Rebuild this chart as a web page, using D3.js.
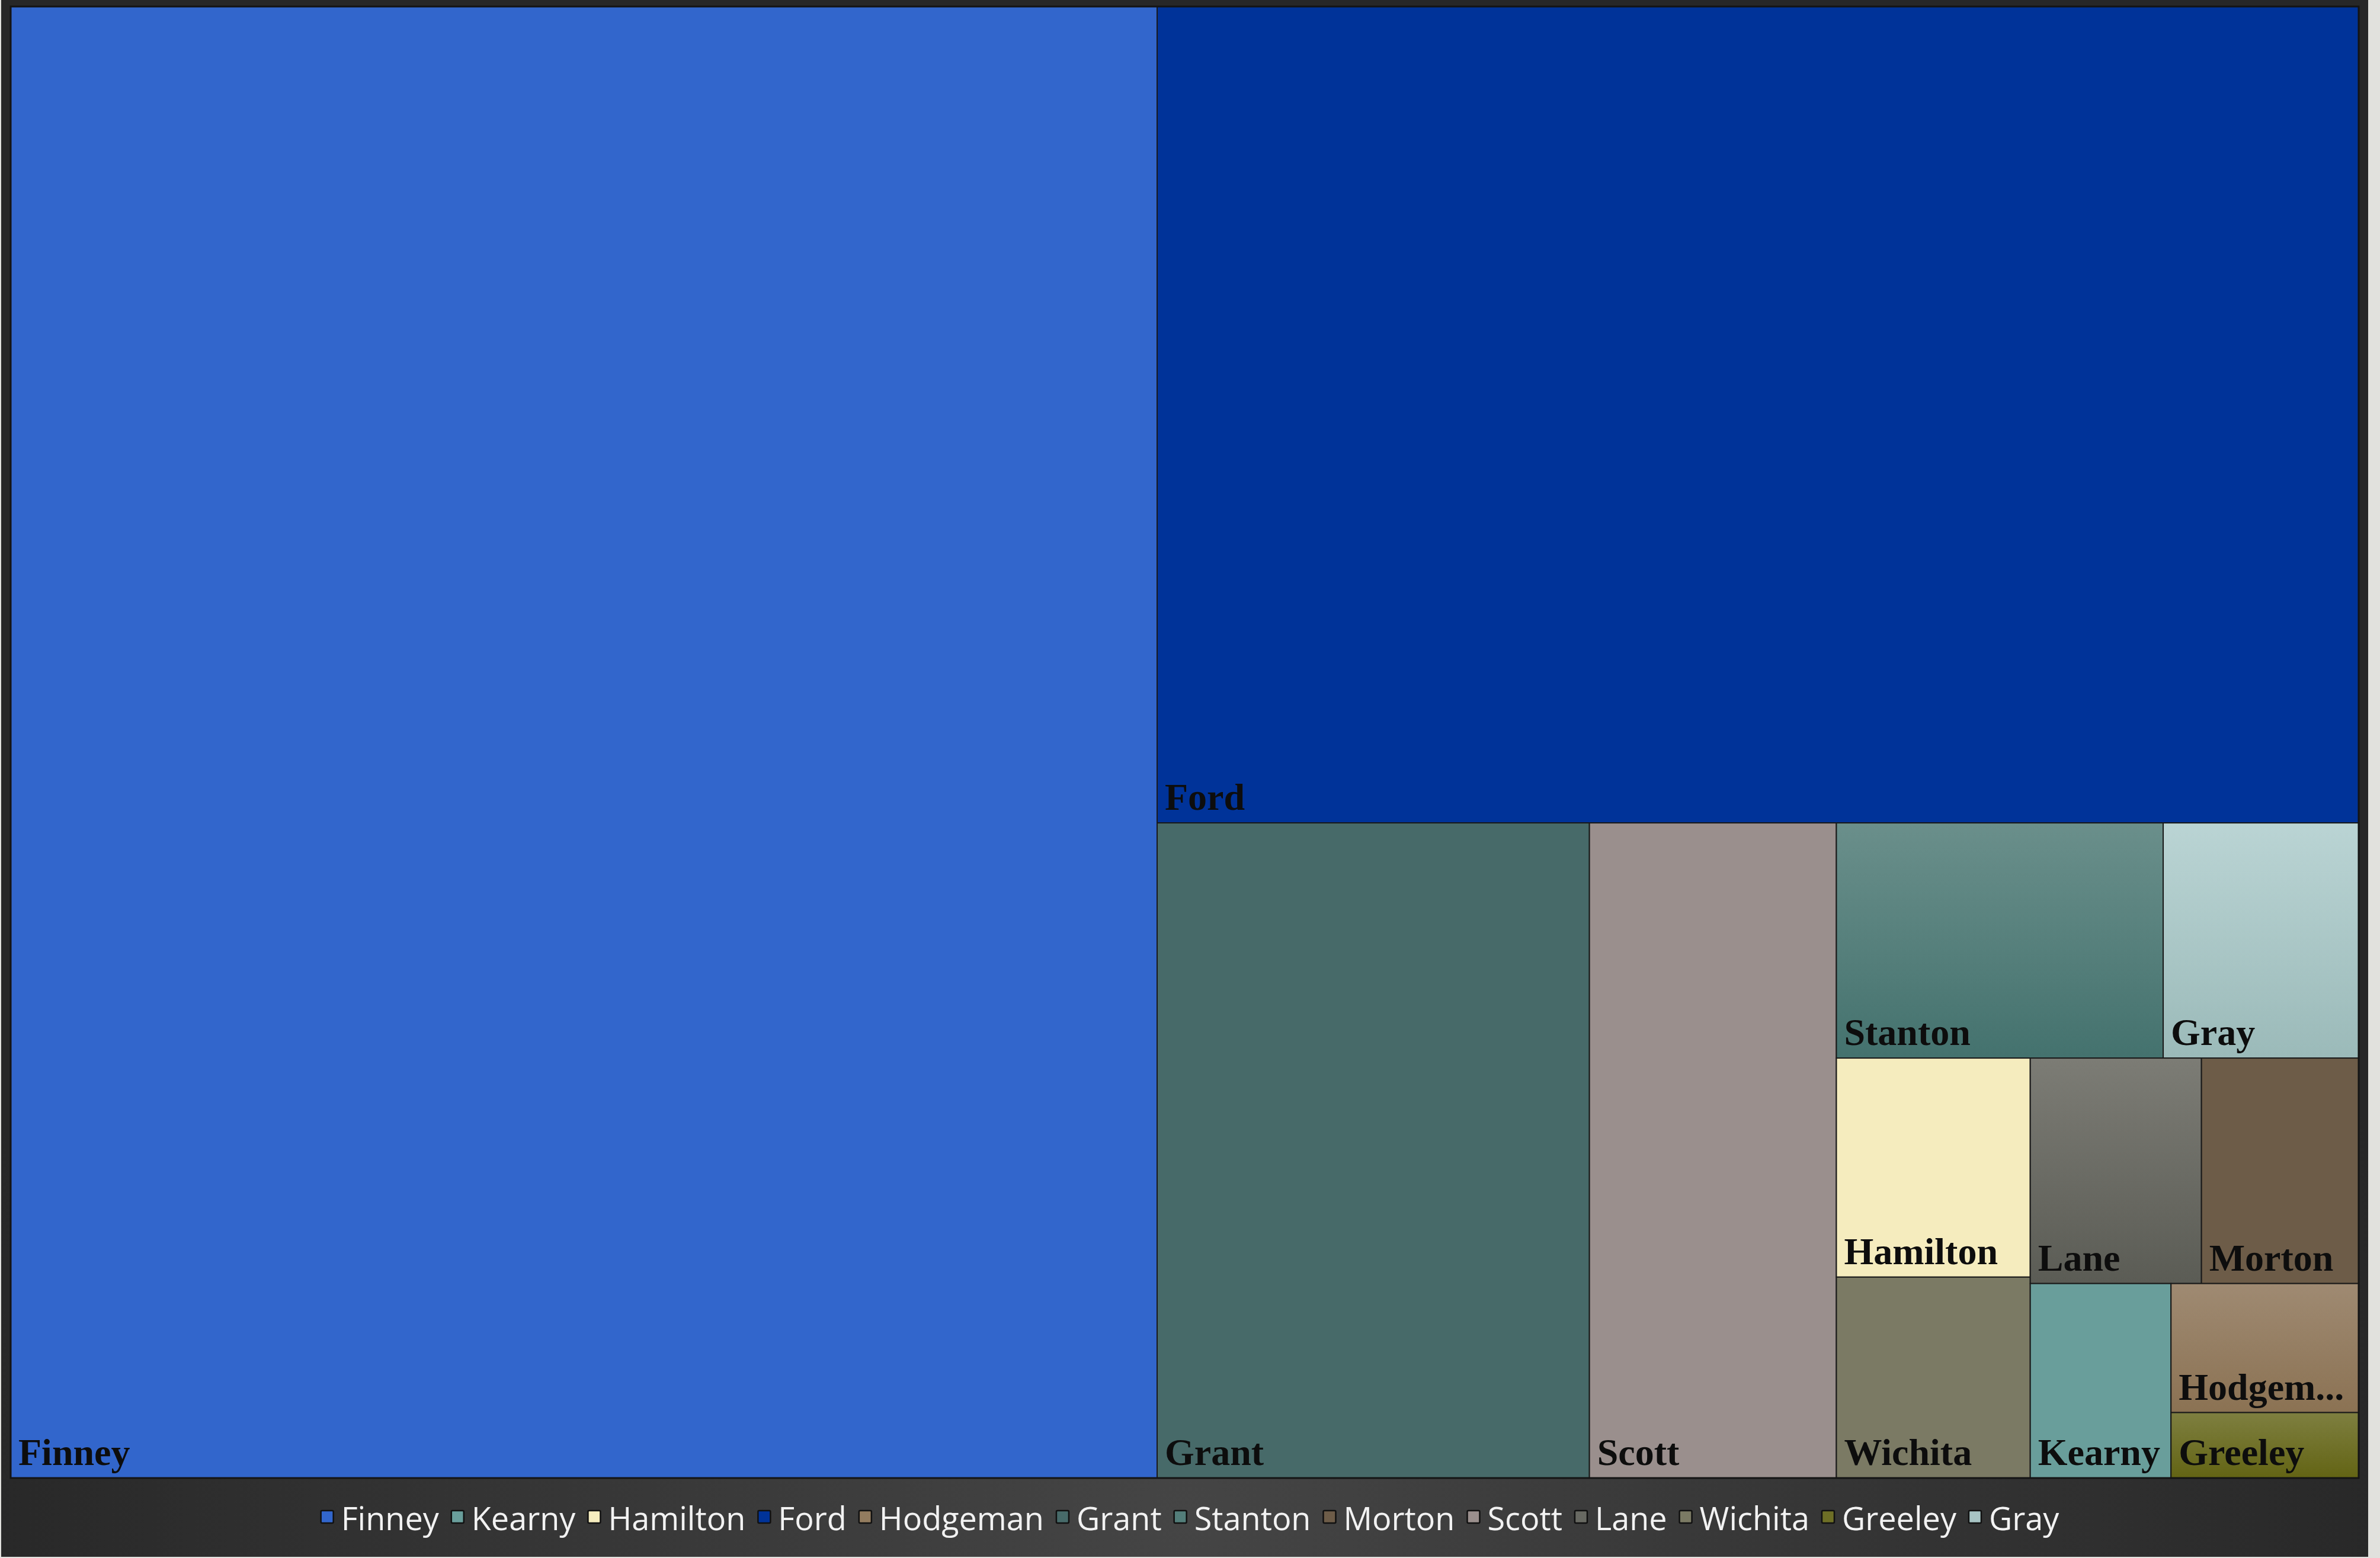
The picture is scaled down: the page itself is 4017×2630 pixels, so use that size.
<!DOCTYPE html>
<html>
<head>
<meta charset="utf-8">
<script src="https://cdn.jsdelivr.net/npm/d3@7"></script>
<style>
  html, body { margin: 0; padding: 0; background: #e1e1dd; overflow: hidden; }
  svg { display: block; }
</style>
</head>
<body>
<svg id="chart"></svg>
<script>
// data, in the order of the legend
const counties = ["Finney", "Kearny", "Hamilton", "Ford", "Hodgeman", "Grant", "Stanton",
                  "Morton", "Scott", "Lane", "Wichita", "Greeley", "Gray"];
const values = [4807, 78, 121, 2795, 69, 807, 219, 101, 461, 110, 111, 35, 131];

// fill per county: [top, bottom] of the vertical gradient
const palette = {
    "Finney":   ["#3266cc", "#3266cc"],
    "Kearny":   ["#699e9b", "#699e9b"],
    "Hamilton": ["#f5ecbe", "#f5ecbe"],
    "Ford":     ["#003399", "#003399"],
    "Hodgeman": ["#9f8a72", "#8b7253"],
    "Grant":    ["#476a69", "#476a69"],
    "Stanton":  ["#6a8f8b", "#44726e"],
    "Morton":   ["#6d5c48", "#6d5c48"],
    "Scott":    ["#9a8f8d", "#9a8f8d"],
    "Lane":     ["#7c7c75", "#5b5c55"],
    "Wichita":  ["#7b7a64", "#7b7a64"],
    "Greeley":  ["#7e7f40", "#636414"],
    "Gray":     ["#bad4d4", "#9bbab9"]
};

const width = 4017;
const height = 2630;

const margin = {
    "top": 11,
    "left": 18,
    "right": 36,
    "bottom": 135
}

const innerW = width - margin.left - margin.right;
const innerH = height - margin.top - margin.bottom;

const svg = d3.select("#chart").attr("width", width).attr("height", height);
const defs = svg.append("defs");

// chart background, lighter round the legend
const bg = defs.append("radialGradient")
    .attr("id", "bg")
    .attr("gradientUnits", "userSpaceOnUse")
    .attr("cx", 2000).attr("cy", 2560).attr("r", 2100);
bg.append("stop").attr("offset", 0).attr("stop-color", "#454545");
bg.append("stop").attr("offset", 1).attr("stop-color", "#272727");

svg.append("rect")
    .attr("x", 2).attr("y", 0)
    .attr("width", 3995).attr("height", 2628)
    .attr("fill", "url(#bg)");

counties.forEach(function (c, i) {
    const g = defs.append("linearGradient")
        .attr("id", "fill" + i)
        .attr("x1", 0).attr("y1", 0).attr("x2", 0).attr("y2", 1);
    g.append("stop").attr("offset", 0).attr("stop-color", palette[c][0]);
    g.append("stop").attr("offset", 1).attr("stop-color", palette[c][1]);
});

// squarify rows, same as d3's but with an aspect ratio below 1
function squarifyLoose(ratio) {
    return function (parent, x0, y0, x1, y1) {
        const nodes = parent.children;
        const n = nodes.length;
        let value = parent.value, i0 = 0, i1 = 0;
        while (i0 < n) {
            const dx = x1 - x0, dy = y1 - y0;
            let sumValue = nodes[i1++].value;
            let minValue = sumValue, maxValue = sumValue;
            const alpha = Math.max(dy / dx, dx / dy) / (value * ratio);
            let beta = sumValue * sumValue * alpha;
            let minRatio = Math.max(maxValue / beta, beta / minValue);
            for (; i1 < n; ++i1) {
                const nodeValue = nodes[i1].value;
                sumValue += nodeValue;
                minValue = Math.min(minValue, nodeValue);
                maxValue = Math.max(maxValue, nodeValue);
                beta = sumValue * sumValue * alpha;
                const newRatio = Math.max(maxValue / beta, beta / minValue);
                if (newRatio > minRatio) { sumValue -= nodeValue; break; }
                minRatio = newRatio;
            }
            const row = { value: sumValue, children: nodes.slice(i0, i1) };
            if (dx < dy) d3.treemapDice(row, x0, y0, x1, y0 += dy * sumValue / value);
            else d3.treemapSlice(row, x0, y0, x0 += dx * sumValue / value, y1);
            value -= sumValue;
            i0 = i1;
        }
    };
}

const root = d3.hierarchy({ children: counties.map((c, i) => ({ name: c, value: values[i], idx: i })) })
    .sum(d => d.value || 0)
    .sort((a, b) => b.value - a.value);

d3.treemap()
    .size([innerW, innerH])
    .tile(squarifyLoose(0.76))(root);

const plot = svg.append("g").attr("transform", `translate(${margin.left},${margin.top})`);

const cell = plot.selectAll("g.cell")
    .data(root.leaves())
    .join("g")
    .attr("class", "cell")
    .attr("transform", d => `translate(${d.x0},${d.y0})`);

cell.append("rect")
    .attr("width", d => d.x1 - d.x0)
    .attr("height", d => d.y1 - d.y0)
    .attr("fill", d => `url(#fill${d.data.idx})`)
    .attr("stroke", "#1a1a1a")
    .attr("stroke-width", 2);

cell.append("text")
    .attr("x", 13)
    .attr("y", d => d.y1 - d.y0 - 22)
    .attr("font-family", "'Liberation Serif', 'Times New Roman', serif")
    .attr("font-weight", 700)
    .attr("font-size", 64)
    .attr("fill", "#0d0d0d")
    .text(d => d.data.name)
    .each(function (d) {
        // shorten names that do not fit the cell, padding on both sides
        const avail = d.x1 - d.x0 - 26;
        let name = d.data.name;
        while (this.getComputedTextLength() > avail && name.length > 1) {
            name = name.slice(0, -1);
            d3.select(this).text(name + "...");
        }
    });

// outer edge of the plot
plot.append("rect")
    .attr("width", innerW)
    .attr("height", innerH)
    .attr("fill", "none")
    .attr("stroke", "#141414")
    .attr("stroke-width", 3);

// legend, centred under the plot
const legend = svg.append("g");
const item = legend.selectAll("g")
    .data(counties)
    .join("g");

item.append("rect")
    .attr("x", 0).attr("y", -11)
    .attr("width", 21).attr("height", 21)
    .attr("rx", 2)
    .attr("fill", c => d3.interpolateRgb(palette[c][0], palette[c][1])(0.6))
    .attr("stroke", "#111")
    .attr("stroke-width", 2.5);

item.append("text")
    .attr("x", 34)
    .attr("y", 22)
    .attr("font-family", "'Open Sans', 'Noto Sans', sans-serif")
    .attr("font-size", 54)
    .attr("fill", "#f2f2f2")
    .text(c => c);

let cursor = 0;
item.each(function () {
    const w = d3.select(this).select("text").node().getComputedTextLength();
    d3.select(this).attr("transform", `translate(${cursor},0)`);
    cursor += 34 + w + 21;
});
cursor -= 21;
legend.attr("transform", `translate(${(width - cursor) / 2},2561)`);
</script>
</body>
</html>
